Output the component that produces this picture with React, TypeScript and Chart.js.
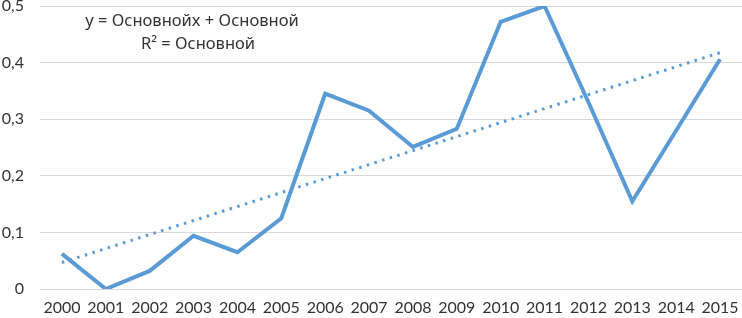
import React, { useEffect, useRef } from "react";
import { Chart, registerables } from "chart.js";

Chart.register(...registerables);

const years = ["2000","2001","2002","2003","2004","2005","2006","2007","2008","2009","2010","2011","2012","2013","2014","2015"];
const values = [0.062, 0.0, 0.032, 0.094, 0.065, 0.125, 0.345, 0.315, 0.251, 0.283, 0.472, 0.5, 0.33, 0.155, 0.28, 0.406];
const equationLines = ["y = Основнойx + Основной", "R² = Основной"];

function linearTrend(ys: number[]): number[] {
  const n = ys.length;
  const mx = (n - 1) / 2;
  const my = ys.reduce((a, b) => a + b, 0) / n;
  let sxy = 0, sxx = 0;
  ys.forEach((y, i) => { sxy += (i - mx) * (y - my); sxx += (i - mx) * (i - mx); });
  const slope = sxy / sxx;
  return ys.map((_, i) => my + slope * (i - mx));
}

const FONT = "Lato, 'Noto Sans', sans-serif";
const TEXT_FONT = "'Noto Sans', sans-serif";

export default function App() {
  const ref = useRef<HTMLCanvasElement>(null);
  useEffect(() => {
    document.body.style.margin = "0";
    const textPlugin = {
      id: "eqText",
      afterDraw(chart: any) {
        const ctx = chart.ctx;
        ctx.save();
        ctx.fillStyle = "#333333";
        ctx.font = `16.5px ${TEXT_FONT}`;
        ctx.textAlign = "center";
        ctx.textBaseline = "middle";
        ctx.fillText(equationLines[0], 192, 21);
        ctx.fillText(equationLines[1], 198, 44);
        ctx.restore();
      },
    };
    const chart = new Chart(ref.current!, {
      type: "line",
      data: {
        labels: years,
        datasets: [
          {
            data: values,
            borderColor: "#5B9BD5",
            borderWidth: 4,
            pointRadius: 0,
            tension: 0,
            fill: false,
            borderJoinStyle: "miter",
          },
          {
            data: linearTrend(values),
            borderColor: "#5B9BD5",
            borderWidth: 3,
            borderDash: [2.5, 5.5],
            pointRadius: 0,
            fill: false,
          },
        ],
      },
      options: {
        animation: false,
        responsive: false,
        plugins: { legend: { display: false }, tooltip: { enabled: false } },
        layout: { padding: { top: 6, right: 0, left: 0, bottom: 0 } },
        scales: {
          x: {
            offset: true,
            grid: { display: false, drawTicks: false },
            border: { display: false },
            afterFit: (s: any) => { s.height = 29; s.paddingLeft = 0; s.paddingRight = 0; },
            ticks: { color: "#333333", font: { family: FONT, size: 16, lineHeight: 1 }, padding: 11, maxRotation: 0, autoSkip: false },
          },
          y: {
            min: 0,
            max: 0.5,
            grid: { color: "#d9d9d9", lineWidth: 1, drawTicks: false },
            border: { display: false },
            afterFit: (s: any) => { s.width = 40; s.paddingTop = 0; s.paddingBottom = 0; },
            ticks: {
              stepSize: 0.1,
              padding: 16,
              color: "#333333",
              font: { family: FONT, size: 16, lineHeight: 1 },
              callback: (v: any) => (v === 0 ? "0" : Number(v).toFixed(1).replace(".", ",")),
            },
          },
        },
      },
      plugins: [textPlugin],
    });
    return () => chart.destroy();
  }, []);
  return <canvas ref={ref} width={742} height={318} />;
}
